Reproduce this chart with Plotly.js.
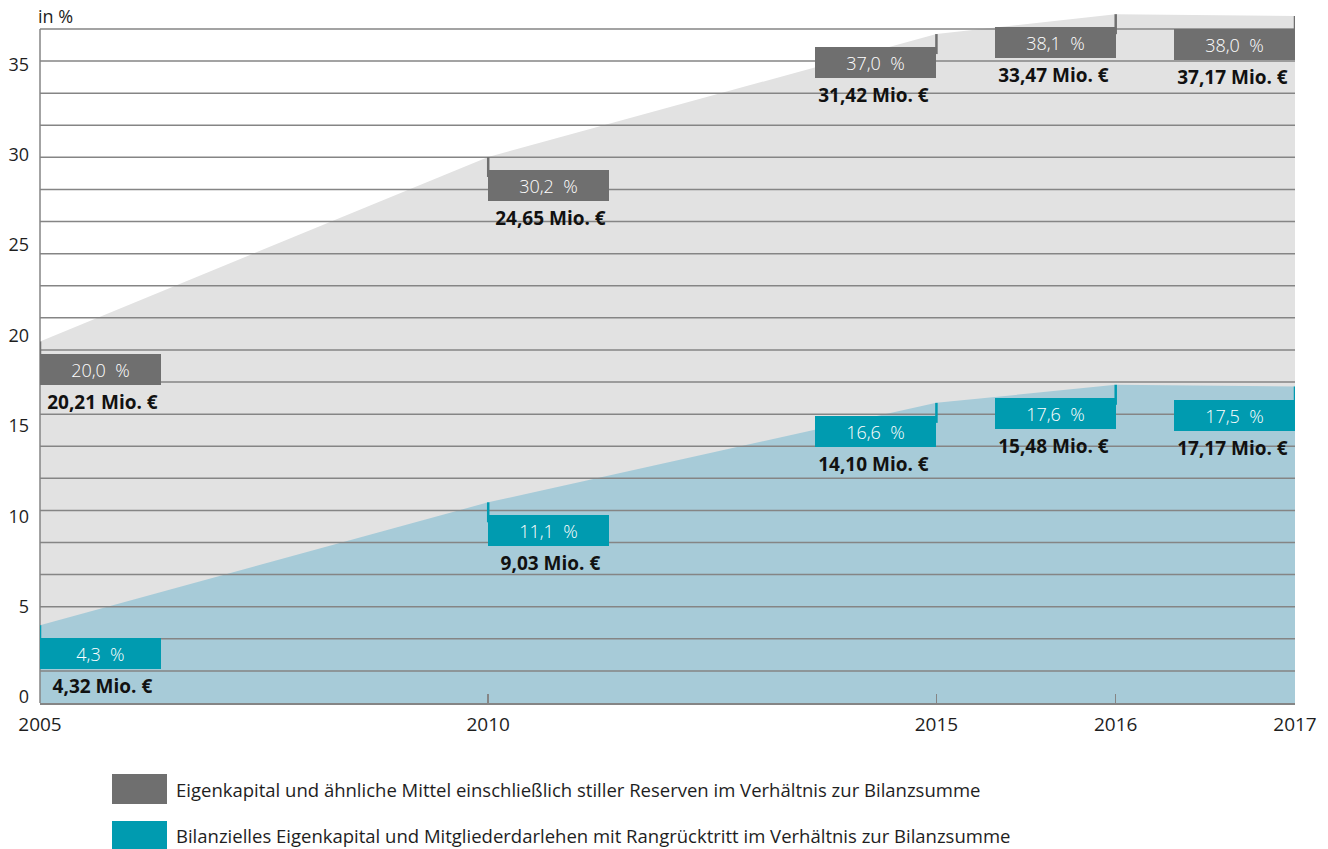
<!DOCTYPE html>
<html>
<head>
<meta charset="utf-8">
<script src="https://cdn.plot.ly/plotly-3.0.1.min.js"></script>
<style>
  html, body { margin: 0; padding: 0; background: #fff; }
  #chart { width: 1328px; height: 849px; }
</style>
</head>
<body>
<div id="chart"></div>
<script>
// Eigenkapitalquoten 2005–2017
const years = [2005, 2010, 2015, 2016, 2017];
const quoteGesamt = [20.0, 30.2, 37.0, 38.1, 38.0];          // in %
const betragGesamt = [20.21, 24.65, 31.42, 33.47, 37.17];     // Mio. €
const quoteBilanziell = [4.3, 11.1, 16.6, 17.6, 17.5];        // in %
const betragBilanziell = [4.32, 9.03, 14.10, 15.48, 17.17];   // Mio. €
const yTicks = [0, 5, 10, 15, 20, 25, 30, 35];

const seriesNames = [
  "Eigenkapital und ähnliche Mittel einschließlich stiller Reserven im Verhältnis zur Bilanzsumme",
  "Bilanzielles Eigenkapital und Mitgliederdarlehen mit Rangrücktritt im Verhältnis zur Bilanzsumme"
];

// Time axis: 2005–2015 drawn at half scale, single years afterwards at full scale
function axisPos(year) {
  return year <= 2015 ? (year - 2005) / 2 : 5 + (year - 2015);
}
const xs = years.map(axisPos);

const FONT = "'Open Sans', Lato, sans-serif";
const GREY_BOX = "#6f6f6f";
const GREY_AREA = "#e2e2e2";
const TEAL_BOX = "#009bb0";
const BLUE_AREA = "#a7cbd8";
const GRID = "#858585";
const TEXT = "#1e1e1e";

const W = 1328, H = 849;
const M = { l: 40, r: 33, t: 10, b: 146 };
const PW = W - M.l - M.r, PH = H - M.t - M.b;
const pxX = px => (px - M.l) / PW;
const pxY = py => (H - M.b - py) / PH;

const Y_MAX = 38.33;
const GRID_TOP = 37.28;
const GRID_STEPS = 21;

const fmt = (v, d) => v.toFixed(d).replace(".", ",");

const traces = [
  {
    x: xs, y: quoteGesamt, type: "scatter", mode: "lines",
    fill: "tozeroy", fillcolor: GREY_AREA, line: { width: 0, color: GREY_AREA },
    name: seriesNames[0], hoverinfo: "skip"
  },
  {
    x: xs, y: quoteBilanziell, type: "scatter", mode: "lines",
    fill: "tozeroy", fillcolor: BLUE_AREA, line: { width: 0, color: BLUE_AREA },
    name: seriesNames[1], hoverinfo: "skip"
  }
];

const shapes = [];
const annotations = [];

// horizontal rules over the areas
for (let i = 1; i <= GRID_STEPS; i++) {
  const yv = GRID_TOP * i / GRID_STEPS;
  shapes.push({
    type: "line", layer: "above", xref: "paper", yref: "y",
    x0: 0, x1: 1, y0: yv, y1: yv,
    line: { color: GRID, width: 1.5 }
  });
}
// left axis rule
shapes.push({
  type: "line", layer: "above", xref: "paper", yref: "y",
  x0: 0, x1: 0, y0: 0, y1: GRID_TOP,
  line: { color: GRID, width: 1.5 }
});

function addLabels(values, amounts, boxColor) {
  values.forEach((v, i) => {
    const side = years[i] >= 2015 ? "right" : "left";
    // pointer from the value down into the label box
    shapes.push({
      type: "line", layer: "above", xref: "x", yref: "y",
      x0: xs[i], x1: xs[i], ysizemode: "pixel", yanchor: v, y0: 0, y1: -20,
      line: { color: boxColor, width: 2.5 }
    });
    annotations.push({
      x: xs[i], y: v, xref: "x", yref: "y",
      xanchor: side, yanchor: "top", yshift: -13,
      text: fmt(v, 1) + "&nbsp; %", showarrow: false,
      width: 121, height: 31, bgcolor: boxColor, borderpad: 0, borderwidth: 0,
      align: "center", valign: "middle",
      font: { family: FONT, size: 18, color: "#ffffff", weight: 300 }
    });
    annotations.push({
      x: xs[i], y: v, xref: "x", yref: "y",
      xanchor: side, yanchor: "top", yshift: -46,
      text: "<b>" + fmt(amounts[i], 2) + " Mio. €</b>", showarrow: false,
      width: 121, align: "center",
      font: { family: FONT, size: 19, color: "#111111" }
    });
  });
}
addLabels(quoteGesamt, betragGesamt, GREY_BOX);
addLabels(quoteBilanziell, betragBilanziell, TEAL_BOX);

// unit label
annotations.push({
  xref: "paper", yref: "paper", x: pxX(36), y: pxY(16),
  xanchor: "left", yanchor: "middle", showarrow: false,
  text: "in %", font: { family: FONT, size: 18, color: TEXT }
});

// legend
const legendColors = [GREY_BOX, TEAL_BOX];
const legendRows = [789, 836];
seriesNames.forEach((name, i) => {
  const cy = legendRows[i];
  shapes.push({
    type: "rect", xref: "paper", yref: "paper", layer: "above",
    x0: pxX(112), x1: pxX(167), y0: pxY(cy + 15), y1: pxY(cy - 15),
    fillcolor: legendColors[i], line: { width: 0 }
  });
  annotations.push({
    xref: "paper", yref: "paper", x: pxX(174), y: pxY(cy),
    xanchor: "left", yanchor: "middle", showarrow: false,
    text: name, font: { family: FONT, size: 18.5, color: TEXT }
  });
});

const layout = {
  width: W, height: H,
  margin: M,
  paper_bgcolor: "#ffffff", plot_bgcolor: "#ffffff",
  showlegend: false,
  font: { family: FONT, size: 18, color: TEXT },
  xaxis: {
    range: [0, 7], tickvals: xs, ticktext: years.map(String),
    showgrid: false, zeroline: false, fixedrange: true,
    showline: true, linecolor: GRID, linewidth: 2,
    ticks: "inside", ticklen: 9, tickwidth: 1.5, tickcolor: GRID,
    layer: "above traces", ticklabelstandoff: 3,
    tickfont: { family: FONT, size: 19, color: TEXT }
  },
  yaxis: {
    range: [0, Y_MAX], tickvals: yTicks, ticktext: yTicks.map(String),
    showgrid: false, zeroline: false, showline: false, fixedrange: true,
    ticks: "", ticklabelstandoff: 10, ticklabelshift: -6,
    tickfont: { family: FONT, size: 18, color: TEXT }
  },
  shapes: shapes,
  annotations: annotations
};

Plotly.newPlot("chart", traces, layout, { displayModeBar: false, staticPlot: true });
</script>
</body>
</html>
